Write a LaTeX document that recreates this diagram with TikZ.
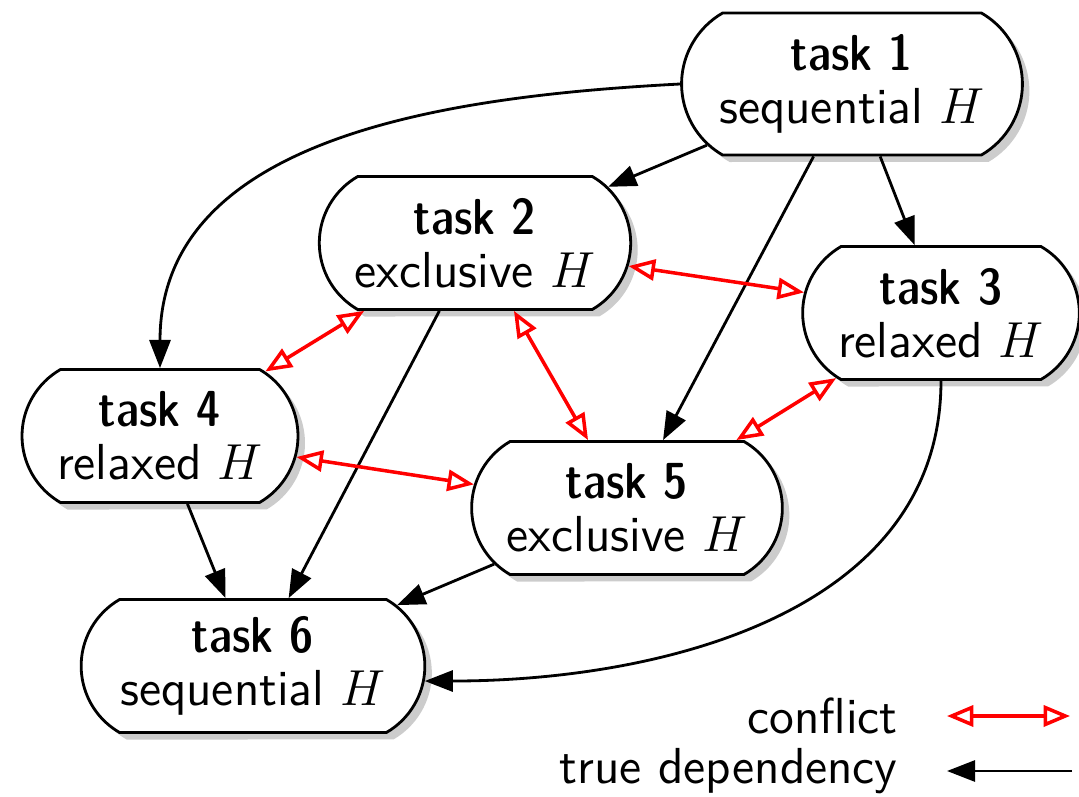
\documentclass[tikz,border=0pt]{standalone}
\usepackage{fontspec}
\newfontfamily\taskfont[Extension=.otf]{lmsansdemicond10-regular}
\usepackage{tikz}
\usetikzlibrary{arrows.meta}
\usetikzlibrary{shapes.misc, shadows}

\tikzset{
  task/.style={rounded rectangle, rounded rectangle arc length=120, draw, thick,
    fill=white, align=center, minimum height=1.33cm, inner xsep=6pt,
    font=\sffamily\fontsize{14.4}{15}\selectfont,
    drop shadow={shadow xshift=0.07cm, shadow yshift=-0.07cm, fill=black!20, opacity=1}},
  dep/.style={thick, -{Triangle[length=8pt, width=6pt]}},
  conflict/.style={line width=1pt, red, {Triangle[open, length=7.5pt, width=6pt]}-{Triangle[open, length=7.5pt, width=6pt]}},
  legend/.style={anchor=east, font=\sffamily\fontsize{14.4}{15}\selectfont}
}
\newcommand{\tasktitle}[1]{{\taskfont #1}}

\begin{document}
\begin{tikzpicture}
    \useasboundingbox (0,0) rectangle (10.79,7.96);

    % Aufgaben
    \node[task, minimum height=1.42cm] (t1) at (8.52, 7.12) {\tasktitle{task 1}\\sequential $H$};
    \node[task] (t2) at (4.75, 5.53) {\tasktitle{task 2}\\exclusive $H$};
    \node[task] (t3) at (9.41, 4.83) {\tasktitle{task 3}\\relaxed $H$};
    \node[task] (t4) at (1.60, 3.60) {\tasktitle{task 4}\\relaxed $H$};
    \node[task] (t5) at (6.27, 2.88) {\tasktitle{task 5}\\exclusive $H$};
    \node[task] (t6) at (2.53, 1.30) {\tasktitle{task 6}\\sequential $H$};

    % Abhaengigkeiten
    \draw[dep] (t1) -- (t2);
    \draw[dep] (t1) -- (t3);
    \draw[dep] (t1) -- (t5);
    \draw[dep] (t1.west) to[out=183, in=90] (t4.north);
    \draw[dep] (t2) -- (t6);
    \draw[dep] (t4) -- (t6);
    \draw[dep] (t5) -- (t6);
    \draw[dep] (t3.south) to[out=-90, in=0] (t6.-5);

    % Konflikte
    \draw[conflict] (t2) -- (t3);
    \draw[conflict] (t2) -- (t4);
    \draw[conflict] (t2) -- (t5);
    \draw[conflict] (t3) -- (t5);
    \draw[conflict] (t4) -- (t5);

    % Legende
    \node[legend] (lc) at (9.10, 0.80) {conflict};
    \node[legend] (ld) at (9.10, 0.25) {true dependency};
    \coordinate (c1) at (9.47, 0.80);
    \coordinate (c2) at (10.70, 0.80);
    \coordinate (d1) at (9.47, 0.25);
    \coordinate (d2) at (10.72, 0.25);
    \draw[conflict] (c1) -- (c2);
    \draw[dep] (d2) -- (d1);
\end{tikzpicture}
\end{document}
